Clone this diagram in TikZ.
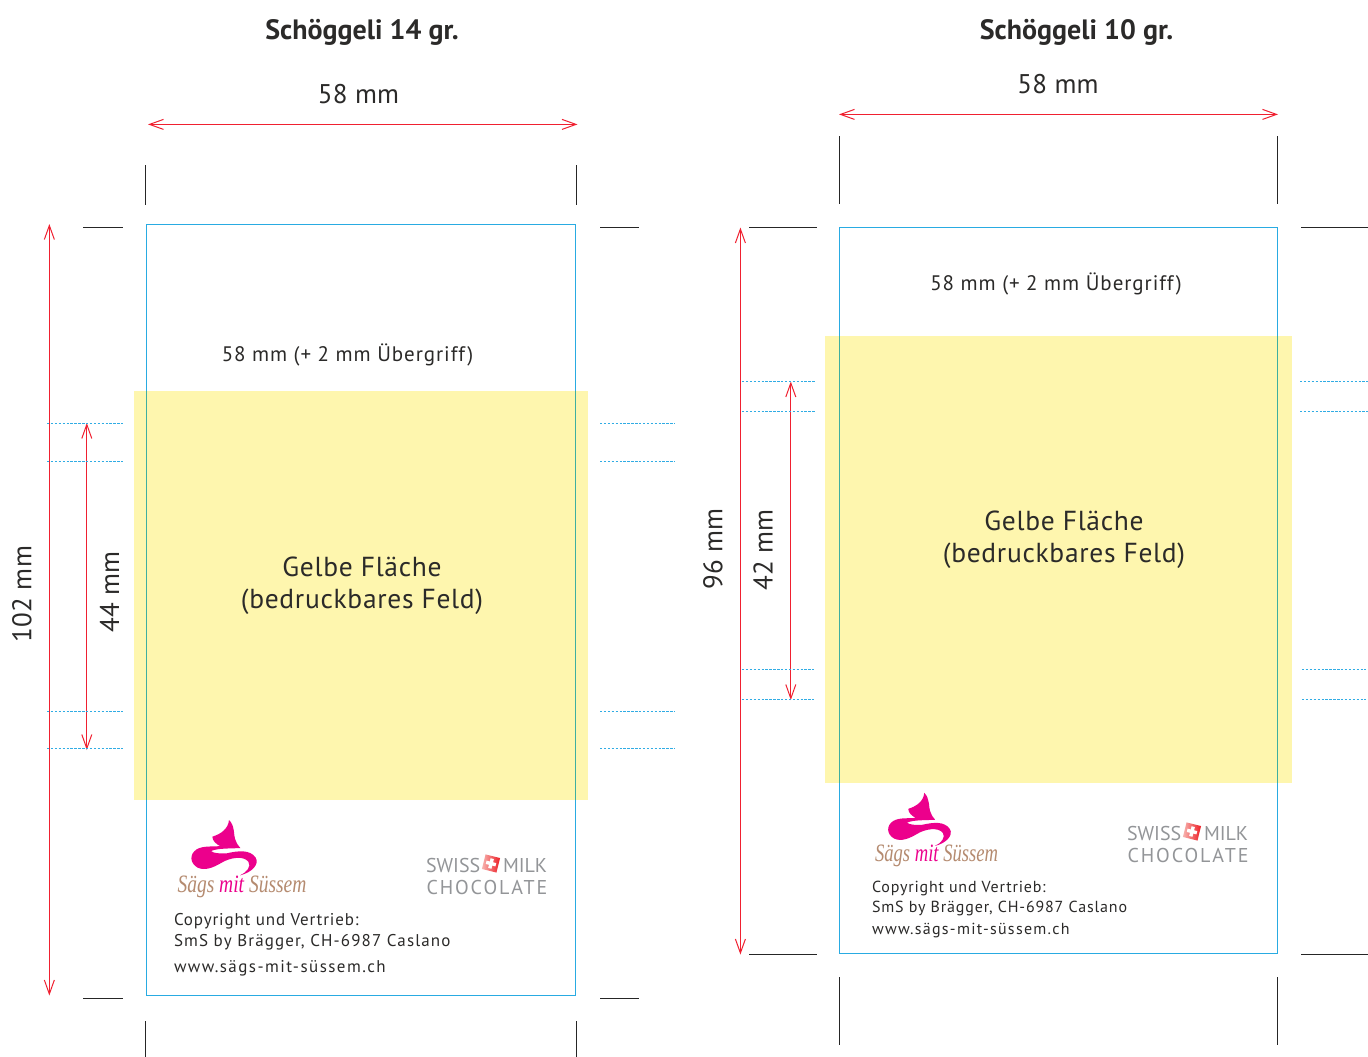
\documentclass[tikz,border=0pt]{standalone}
\usepackage{fontspec}
\setmainfont{PT Sans}
\newfontfamily\logofont{Liberation Serif}
\usetikzlibrary{arrows.meta}
\definecolor{dimred}{HTML}{F02030}
\definecolor{frameblue}{HTML}{29ABE2}
\definecolor{overyellow}{HTML}{3FAFA0}
\definecolor{fieldyellow}{HTML}{FEF6AE}
\definecolor{guideblue}{HTML}{30ACE4}
\definecolor{magentalogo}{HTML}{EC008C}
\definecolor{brownlogo}{HTML}{B58B70}
\definecolor{inktext}{HTML}{2B2A29}
\definecolor{swissgray}{HTML}{939598}
\definecolor{flagred}{HTML}{ED1C24}
\definecolor{flagpale}{HTML}{F7B5B0}
\tikzset{
  x=1pt,y=-1pt,
  every node/.style={inner sep=0pt,outer sep=0pt,text=inktext},
  dimline/.style={draw=dimred,line width=1pt,{Straight Barb[length=14pt,width=10pt,line width=1pt]}-{Straight Barb[length=14pt,width=10pt,line width=1pt]}},
  guide/.style={draw=guideblue,line width=1.1pt,dash pattern=on 2.4pt off 1.5pt},
  crop/.style={draw=black!85,line width=1pt},
  field/.style={fill=fieldyellow,draw=none},
  panel/.style={draw=frameblue,line width=1.3pt},
  panelover/.style={draw=overyellow,line width=1.3pt},
  titlelabel/.style={font=\fontsize{28}{32}\selectfont\bfseries},
  dimlabel/.style={font=\fontsize{27}{32}\selectfont\addfontfeatures{LetterSpace=1}},
  sublabel/.style={font=\fontsize{21}{26}\selectfont\addfontfeatures{LetterSpace=4.5}},
  fieldlabel/.style={font=\fontsize{27.5}{32}\selectfont\addfontfeatures{LetterSpace=2.5},anchor=base},
  infolabel/.style={font=\fontsize{17}{22}\selectfont\addfontfeatures{LetterSpace=6.5},anchor=west},
  infoleftA/.style={font=\fontsize{17}{22}\selectfont\addfontfeatures{LetterSpace=5},anchor=west},
  infoleftC/.style={font=\fontsize{17}{22}\selectfont\addfontfeatures{LetterSpace=8.5},anchor=west},
  inforightA/.style={font=\fontsize{16}{20}\selectfont\addfontfeatures{LetterSpace=5},anchor=west},
  inforightB/.style={font=\fontsize{16}{20}\selectfont\addfontfeatures{LetterSpace=5.3},anchor=west},
  inforightC/.style={font=\fontsize{16}{20}\selectfont\addfontfeatures{LetterSpace=8},anchor=west},
  swisslabel/.style={font=\fontsize{20}{24}\selectfont,text=swissgray,anchor=west},
  logotext/.style={anchor=base west,font=\logofont\itshape\fontsize{25}{30}\selectfont,text=brownlogo},
}
\newcommand{\brandmarks}[7]{% origin x, origin y, scale, text x, text y, prefix, text xscale
  \begin{scope}[shift={(#1,#2)},scale=#3]
    \fill[magentalogo] (132,12) .. controls (150,28) and (146,60) .. (150,68)
      .. controls (155,82) and (160,90) .. (166,96)
      .. controls (135,98) and (100,96) .. (78,105)
      .. controls (85,112) and (105,113) .. (125,112)
      .. controls (160,104) and (195,100) .. (212,125)
      .. controls (224,145) and (200,170) .. (165,178)
      .. controls (185,170) and (200,150) .. (190,137)
      .. controls (175,118) and (135,125) .. (110,140)
      .. controls (85,155) and (60,165) .. (38,155)
      .. controls (15,142) and (12,115) .. (35,100)
      .. controls (55,88) and (85,93) .. (105,90)
      .. controls (95,85) and (82,75) .. (82,62)
      .. controls (108,54) and (130,38) .. (132,12) -- cycle;
  \end{scope}
  \node[logotext,xscale=#7] (#6logo) at (#4,#5) {Sägs \textcolor{magentalogo}{mit} Süssem};
}
\newcommand{\swissmark}[3]{%
  \node[swisslabel] (#3swiss) at (426+#1,865.5+#2) {SWISS};
  \node[swisslabel] (#3milk) at (503+#1,865.5+#2) {MILK};
  \node[swisslabel,font=\fontsize{20}{24}\selectfont\addfontfeatures{LetterSpace=9.5}] (#3choc) at (426.5+#1,887.5+#2) {CHOCOLATE};
  \begin{scope}[shift={(491+#1,863.5+#2)},rotate=-14]
    \shade[left color=flagpale,right color=flagred] (-7.5,-7.5) rectangle (7.5,7.5);
    \fill[white] (-1.7,-5) rectangle (1.7,5) (-5,-1.7) rectangle (5,1.7);
  \end{scope}
}
\begin{document}
\begin{tikzpicture}
\useasboundingbox (0,0) rectangle (1368,1057);
\fill[white] (0,0) rectangle (1368,1057);

% ---- left panel ----
\coordinate (lTL) at (146.75,224.25);
\coordinate (lBR) at (575.25,995.25);
\draw[panel] (lTL) rectangle (lBR);
\fill[field] (134,391) rectangle (587.5,799.5);
\draw[panelover] (146.75,391) -- (146.75,799.5) (575.25,391) -- (575.25,799.5);

\node[titlelabel] (ltitle) at (362,32.5) {Schöggeli 14 gr.};
\node[dimlabel] (lwidth) at (358.5,94) {58 mm};
\node[sublabel] (lsub) at (347.5,354.5) {58 mm (+ 2 mm Übergriff)};
\node[fieldlabel] (lfield1) at (362,576) {Gelbe Fläche};
\node[fieldlabel] (lfield2) at (362,608) {(bedruckbares Feld)};
\node[dimlabel,rotate=90] (lheight) at (22,594) {102 mm};
\node[dimlabel,rotate=90] (lzone) at (109.5,592) {44 mm};

\coordinate (la1) at (148,124.4); \coordinate (la2) at (577.5,124.4);
\draw[dimline] (la1) -- (la2);
\coordinate (lb1) at (49.35,224); \coordinate (lb2) at (49.35,995.5);
\draw[dimline] (lb1) -- (lb2);
\coordinate (lc1) at (86.8,423); \coordinate (lc2) at (86.8,750);
\draw[dimline] (lc1) -- (lc2);

\foreach \yy in {423.8,461.3,711.3,748.8}{
  \draw[guide] (47,\yy) -- (123,\yy);
  \draw[guide] (600,\yy) -- (675,\yy);
}
\draw[crop] (145.5,165) -- (145.5,205) (576.7,165) -- (576.7,205);
\draw[crop] (145.5,1021) -- (145.5,1057) (576.7,1021) -- (576.7,1057);
\draw[crop] (83,227.5) -- (123,227.5) (600,227.5) -- (639,227.5);
\draw[crop] (83,998.5) -- (123,998.5) (600,998.5) -- (639,998.5);

\brandmarks{185}{816}{1/3}{177.5}{892.5}{l}{.78}
\swissmark{0}{0}{l}
\node[infoleftA] (linfo1) at (174,921) {Copyright und Vertrieb:};
\node[infolabel] (linfo2) at (174,942) {SmS by Brägger, CH-6987 Caslano};
\node[infoleftC] (linfo3) at (174,968) {www.sägs-mit-süssem.ch};

% ---- right panel ----
\coordinate (rTL) at (839.25,227.25);
\coordinate (rBR) at (1277.25,953.25);
\draw[panel] (rTL) rectangle (rBR);
\fill[field] (825,336) rectangle (1292,783);
\draw[panelover] (839.25,336) -- (839.25,783) (1277.25,336) -- (1277.25,783);

\node[titlelabel] (rtitle) at (1076.5,32.5) {Schöggeli 10 gr.};
\node[dimlabel] (rwidth) at (1058,84) {58 mm};
\node[sublabel] (rsub) at (1056,284) {58 mm (+ 2 mm Übergriff)};
\node[fieldlabel] (rfield1) at (1064,530) {Gelbe Fläche};
\node[fieldlabel] (rfield2) at (1064,562) {(bedruckbares Feld)};
\node[dimlabel,rotate=90] (rheight) at (713,549) {96 mm};
\node[dimlabel,rotate=90] (rzone) at (763,550) {42 mm};

\coordinate (ra1) at (839,114.4); \coordinate (ra2) at (1278,114.4);
\draw[dimline] (ra1) -- (ra2);
\coordinate (rb1) at (740.4,227.5); \coordinate (rb2) at (740.4,954.5);
\draw[dimline] (rb1) -- (rb2);
\coordinate (rc1) at (790.8,381.5); \coordinate (rc2) at (790.8,700);
\draw[dimline] (rc1) -- (rc2);

\foreach \yy in {381.3,411.3}{
  \draw[guide] (742,\yy) -- (816,\yy);
  \draw[guide] (1300,\yy) -- (1368,\yy);
}
\foreach \yy in {669.3,699.3}{
  \draw[guide] (742,\yy) -- (814,\yy);
  \draw[guide] (1302,\yy) -- (1366,\yy);
}
\draw[crop] (839.5,136) -- (839.5,204) (1277.5,136) -- (1277.5,204);
\draw[crop] (839.5,977) -- (839.5,1045) (1277.5,977) -- (1277.5,1045);
\draw[crop] (749,227) -- (817,227) (1301,227) -- (1368,227);
\draw[crop] (749,954.5) -- (817,954.5) (1301,954.5) -- (1368,954.5);

\brandmarks{882}{789}{.32}{875}{861.5}{r}{.745}
\swissmark{701}{-32}{r}
\node[inforightA] (rinfo1) at (872,888.5) {Copyright und Vertrieb:};
\node[inforightB] (rinfo2) at (872,908.5) {SmS by Brägger, CH-6987 Caslano};
\node[inforightC] (rinfo3) at (872,931) {www.sägs-mit-süssem.ch};
\end{tikzpicture}
\end{document}
